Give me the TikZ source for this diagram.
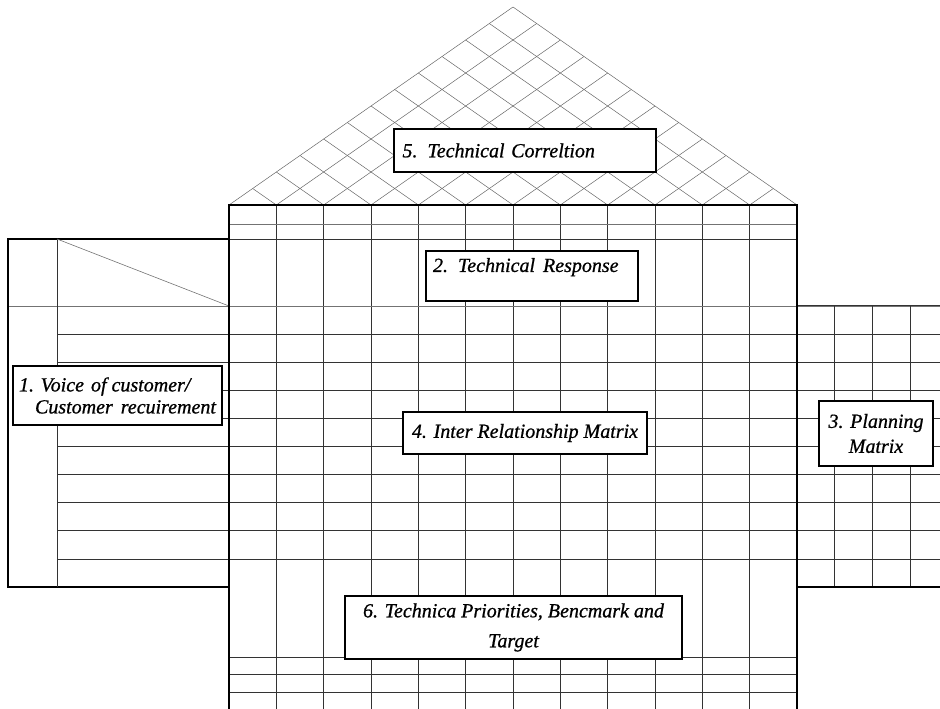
\documentclass[tikz,border=0pt]{standalone}
\usepackage{fontspec}
\setmainfont{Liberation Serif}[ItalicFeatures={FakeBold=0.8}]
\usetikzlibrary{calc}
\tikzset{
  qbox/.style={draw, line width=1.5pt, fill=white, inner sep=0pt,
    font=\fontsize{20}{22}\selectfont\itshape},
  gridln/.style={line width=0.8pt, black!80},
  thinln/.style={line width=0.6pt, black!55},
  roofln/.style={line width=0.5pt, black!60},
  frame/.style={line width=1.4pt}
}

\begin{document}
\begin{tikzpicture}[x=1pt,y=-1pt]
\useasboundingbox (0,0) rectangle (940,709);
\clip (0,0) rectangle (940,709);
\foreach \k in {0,...,11}{
  \draw[roofln] ({229+47.333*\k},205) -- ++({23.667*(12-\k)},{-16.5*(12-\k)});
  \draw[roofln] ({797-47.333*\k},205) -- ++({-23.667*(12-\k)},{-16.5*(12-\k)});
}
\foreach \k in {1,...,11}
  \draw[gridln] ({229+47.333*\k},205) -- ({229+47.333*\k},709);
\draw[thinln] (229,224) -- (797,224);
\draw[gridln] (229,239) -- (797,239);
\draw[thinln] (8,306) -- (940,306);
\foreach \j in {1,...,9}
  \draw[gridln] (57,{306+28.1*\j}) -- (940,{306+28.1*\j});
\foreach \y in {657,674,692}
  \draw[gridln] (229,\y) -- (797,\y);
\draw[frame] (229,587) -- (8,587) -- (8,239) -- (229,239);
\draw[gridln] (57,239) -- (57,587);
\draw[thinln] (57,239) -- (229,306);
\draw[gridln] (797,305) -- (940,305);
\foreach \k in {1,2,3}
  \draw[gridln] ({797+37.7*\k},305) -- ({797+37.7*\k},587);
\draw[frame] (797,587) -- (940,587);
\draw[frame] (229,709) -- (229,205) -- (797,205) -- (797,709);

\node[qbox, minimum width=262, minimum height=43, text width=245, align=left] (techcorr) at (525,150.5) {5. Technical Correltion};
\node[qbox, minimum width=212, minimum height=50, text width=198, align=left] (techresp) at (532,276) {2. Technical\hspace{8pt}Response\\\mbox{}};
\node[qbox, minimum width=209, minimum height=59, align=left] (voc) at (117.5,395.5) {1. Voice\hspace{7pt}of customer/\\\hspace{16pt}Customer\hspace{8pt}recuirement};
\node[qbox, minimum width=244, minimum height=42, align=center] (relmat) at (525,433) {4. Inter Relationship Matrix};
\node[qbox, minimum width=114, minimum height=65, align=center] (planmat) at (876,433.5) {3. Planning\\[3pt]Matrix};
\node[qbox, minimum width=337, minimum height=63, align=center] (prio) at (513.5,627.5) {6. Technica Priorities, Bencmark and\\[8pt]Target};
\end{tikzpicture}
\end{document}
